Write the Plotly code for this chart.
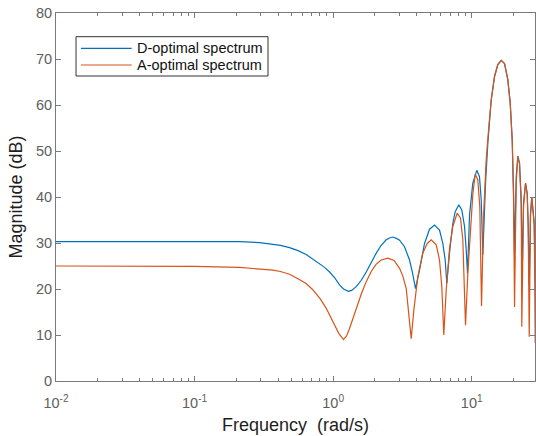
import plotly.graph_objects as go

# Frequency grid (rad/s) and magnitude responses (dB) of the two input spectra
freq_d = [0.01, 0.03, 0.1, 0.211, 0.295, 0.367, 0.417, 0.484, 0.553, 0.639,
          0.71, 0.798, 0.867, 0.942, 1.023, 1.112, 1.188, 1.29, 1.36, 1.467,
          1.596, 1.733, 1.883, 2.047, 2.223, 2.417, 2.552, 2.697, 2.864, 3.015,
          3.275, 3.557, 3.74, 3.931,
          4.201, 4.565, 4.961, 5.390, 5.857, 6.187, 6.437, 6.611, 6.915, 7.305,
          7.603, 8.071, 8.483, 8.873, 9.126, 9.326, 9.641, 10.18, 10.88, 11.38,
          11.71, 12.03, 12.58, 13.07, 13.83, 14.61, 15.43, 16.32, 17.25, 18.22,
          18.96, 19.60, 20.03, 20.37, 20.95, 21.51, 22.13, 22.76, 23.14, 23.65,
          24.45, 25.14, 25.56, 26.00, 26.56, 27.14, 28.25, 28.72]
mag_d = [30.3, 30.3, 30.3, 30.3, 30.1, 29.8, 29.5, 29.0, 28.4, 27.5,
         26.6, 25.6, 24.7, 23.7, 22.5, 20.9, 20.0, 19.5, 19.7, 20.5,
         21.9, 23.7, 25.8, 27.8, 29.5, 30.7, 31.1, 31.3, 31.0, 30.6,
         29.2, 26.3, 23.5, 20.1,
         24.1, 29.9, 33.0, 33.9, 32.8, 29.9, 26.3, 21.2, 27.8, 34.3,
         36.8, 38.3, 37.2, 33.6, 28.5, 23.4, 36.0, 43.0, 45.8, 44.4,
         39.4, 27.4, 43.0, 51.7, 61.2, 66.2, 68.8, 69.7, 69.0, 65.5,
         60.4, 52.4, 41.5, 27.8, 44.4, 48.9, 47.4, 39.4, 23.4, 38.6,
         43.0, 40.8, 34.3, 20.8, 36.5, 40.0, 34.3, 22.0]

freq_a = [0.01, 0.03, 0.1, 0.211, 0.295, 0.367, 0.417, 0.484, 0.553, 0.639,
          0.71, 0.755, 0.81, 0.892, 0.95, 1.023, 1.10, 1.188, 1.25, 1.313,
          1.467, 1.596, 1.733, 1.883, 2.047, 2.223, 2.482, 2.75, 3.015, 3.184,
          3.368, 3.499, 3.660,
          3.822, 4.084, 4.438, 4.775, 5.103, 5.545, 5.857, 6.085, 6.289, 6.546,
          6.915, 7.305, 7.860, 8.302, 8.626, 8.873, 9.021, 9.373, 9.917, 10.18,
          10.60, 11.07, 11.44, 11.77, 12.17, 12.72, 13.29, 13.83, 14.61, 15.43,
          16.32, 17.25, 18.22, 18.96, 19.60, 20.03, 20.37, 20.95, 21.51, 22.13,
          22.76, 22.99, 23.65, 24.45, 25.14, 25.56, 26.00, 26.56, 27.14, 28.25,
          28.72]
mag_a = [25.0, 25.0, 24.9, 24.7, 24.4, 24.1, 23.8, 23.2, 22.3, 21.2,
         19.9, 19.0, 17.8, 15.8, 14.2, 12.1, 10.3, 9.0, 9.8, 11.4,
         15.8, 18.9, 21.6, 23.8, 25.4, 26.3, 26.7, 26.2, 24.5, 22.8,
         20.1, 14.7, 9.2,
         15.4, 22.7, 27.8, 29.9, 30.7, 29.6, 26.3, 20.5, 10.0, 19.8,
         28.8, 33.6, 36.5, 35.4, 30.7, 21.2, 12.1, 23.4, 34.3, 40.5,
         45.0, 43.7, 37.9, 16.3, 35.7, 48.1, 55.3, 61.0, 66.2, 68.8,
         69.7, 69.0, 65.5, 60.4, 52.4, 40.0, 16.1, 43.0, 48.8, 47.2,
         38.5, 11.8, 38.0, 43.0, 40.6, 33.5, 9.6, 36.0, 40.0, 34.0,
         8.2]

series_names = ["D-optimal spectrum", "A-optimal spectrum"]
series_colors = ["#0072BD", "#D95319"]

x_tick_vals = [0.01, 0.1, 1, 10]
x_tick_text = ["10<sup>-2</sup>", "10<sup>-1</sup>", "10<sup>0</sup>", "10<sup>1</sup>"]
x_minor_vals = [m * d for d in (0.01, 0.1, 1, 10) for m in range(2, 10)]
y_tick_vals = list(range(0, 81, 10))

FONT = "Liberation Sans, Arial, sans-serif"

fig = go.Figure()
for fx, my, name, color in zip((freq_d, freq_a), (mag_d, mag_a), series_names, series_colors):
    fig.add_trace(go.Scatter(x=fx, y=my, mode="lines", name=name, showlegend=False,
                             line=dict(color=color, width=1.2)))

# Boxed legend in the upper-left corner of the axes (paper coordinates)
box_x0, box_x1, box_y0, box_y1 = 0.0418, 0.4426, 0.8288, 0.9356
entry_y = [0.904, 0.8587]
shapes = [dict(type="rect", xref="paper", yref="paper",
               x0=box_x0, x1=box_x1, y0=box_y0, y1=box_y1,
               line=dict(color="#333333", width=1), fillcolor="white", layer="above")]
annotations = []
for name, color, ey in zip(series_names, series_colors, entry_y):
    shapes.append(dict(type="line", xref="paper", yref="paper",
                       x0=0.0522, x1=0.158, y0=ey, y1=ey,
                       line=dict(color=color, width=1.2), layer="above"))
    annotations.append(dict(xref="paper", yref="paper", x=0.1649, y=ey,
                            xanchor="left", yanchor="middle", showarrow=False,
                            text=name, font=dict(family=FONT, size=14.5, color="#111111")))

axis_col = "#7a7a7a"
tick_font = dict(family=FONT, size=14.5, color="#5e5e5e")
title_font = dict(family=FONT, size=18, color="#1e1e1e")

fig.update_layout(
    width=536, height=436,
    margin=dict(l=56, r=1, t=13, b=55),
    paper_bgcolor="white", plot_bgcolor="white",
    showlegend=False,
    shapes=shapes,
    annotations=annotations,
    xaxis=dict(type="log", range=[-2, 1.4567],
               tickvals=x_tick_vals, ticktext=x_tick_text,
               ticks="inside", ticklen=5, tickcolor=axis_col, tickwidth=1,
               ticklabelstandoff=9,
               minor=dict(tickvals=x_minor_vals, ticks="inside", ticklen=3,
                          tickcolor=axis_col, showgrid=False),
               showline=True, linecolor=axis_col, linewidth=1, mirror="ticks",
               showgrid=False, zeroline=False, tickfont=tick_font,
               title=dict(text="Frequency  (rad/s)", font=title_font, standoff=7)),
    yaxis=dict(range=[0, 80], tickvals=y_tick_vals,
               ticks="inside", ticklen=5, tickcolor=axis_col, tickwidth=1,
               showline=True, linecolor=axis_col, linewidth=1, mirror="ticks",
               showgrid=False, zeroline=False, tickfont=tick_font,
               title=dict(text="Magnitude (dB)", font=title_font, standoff=8)),
)

fig.write_html("out.html")
